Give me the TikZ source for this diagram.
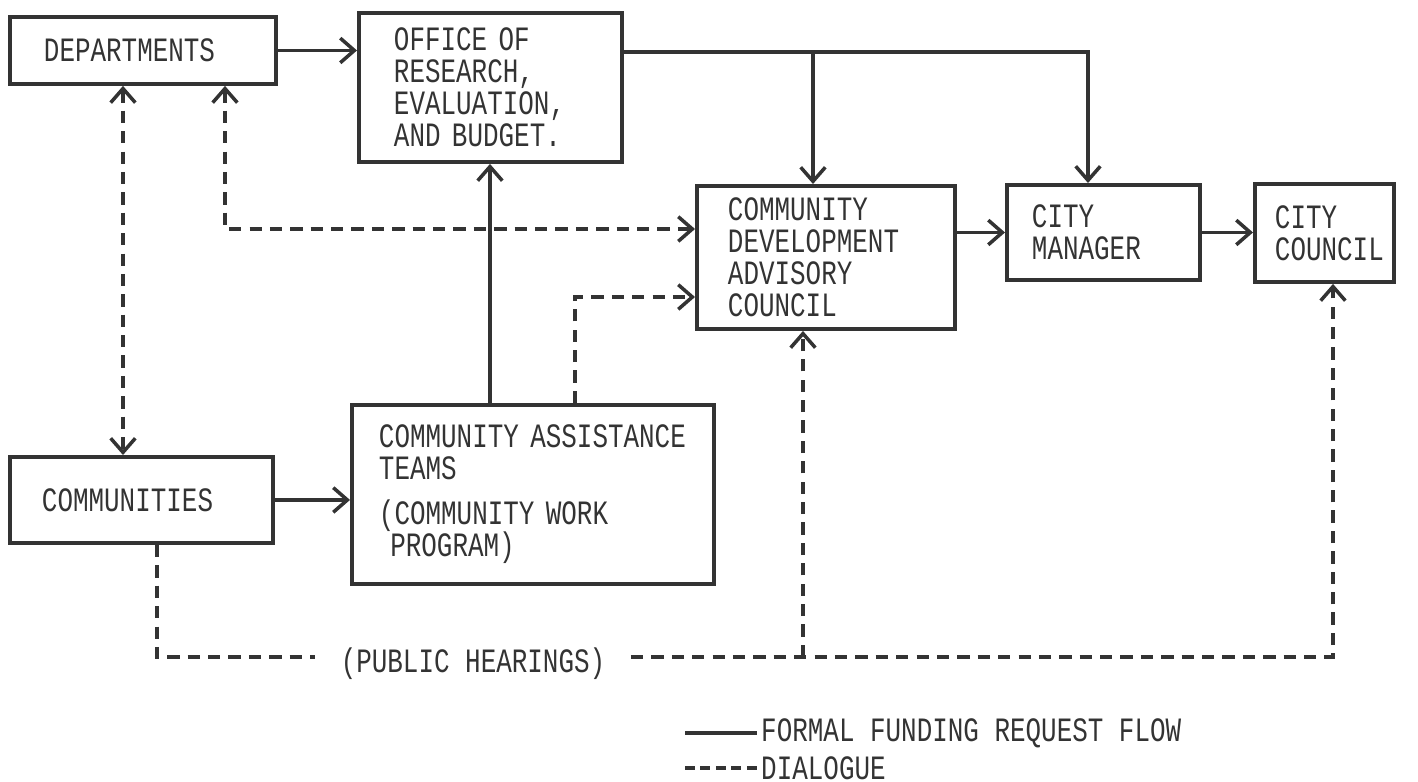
\documentclass[tikz,border=0pt]{standalone}
\usepackage{fontspec}
\usetikzlibrary{calc, arrows.meta}
\newfontfamily\typewriter[FakeStretch=0.76]{Liberation Mono}
\definecolor{InkGray}{HTML}{333333}
\newcommand{\boxfont}{\typewriter\fontsize{9.7}{9.1}\selectfont\lineskiplimit=-20pt\lineskip=0pt}

\tikzset{
  box/.style={draw=InkGray, line width=1.1pt, anchor=north west, align=left,
    text=InkGray, font=\boxfont},
  label/.style={text=InkGray, inner sep=1pt, font=\boxfont},
  flow/.style={InkGray, line width=1pt},
  dialog/.style={InkGray, line width=1pt, dash pattern=on 3.5pt off 2.3pt},
  tip/.style={-{Straight Barb[length=4pt,width=7pt]}},
  tips/.style={{Straight Barb[length=4pt,width=7pt]}-{Straight Barb[length=4pt,width=7pt]}},
}

\begin{document}
\begin{tikzpicture}[x=0.01cm, y=-0.01cm]
  \useasboundingbox (0,0) rectangle (1418,782);

  % boxes
  \node[box, inner xsep=0.34cm, text width=1.98cm, minimum height=0.67cm] (dept) at (8,15) {DEPARTMENTS};
  \node[box, inner xsep=0.35cm, text width=1.93cm, minimum height=1.49cm] (orb) at (357,11)
    {OFFICE OF\\RESEARCH,\\EVALUATION,\\AND BUDGET.};
  \node[box, inner xsep=0.31cm, text width=1.96cm, minimum height=1.43cm] (cdac) at (695,184)
    {COMMUNITY\\DEVELOPMENT\\ADVISORY\\COUNCIL};
  \node[box, inner xsep=0.25cm, text width=1.43cm, minimum height=0.95cm] (cm) at (1005,183)
    {CITY\\MANAGER};
  \node[box, inner xsep=0.20cm, text width=0.99cm, minimum height=0.98cm] (cc) at (1253,182)
    {CITY\\COUNCIL};
  \node[box, inner xsep=0.32cm, text width=1.99cm, minimum height=0.86cm] (comm) at (8,455) {COMMUNITIES};
  \node[box, inner xsep=0.27cm, text width=3.08cm, minimum height=1.79cm] (cat) at (350,403)
    {\mbox{COMMUNITY ASSISTANCE}\\TEAMS\\[3.7pt](COMMUNITY WORK\\\ PROGRAM)};

  % formal flow
  \coordinate (tm) at (1088,52);
  \coordinate (tb) at (813,52);
  \draw[flow, tip] (dept.east) -- (dept.east -| orb.west);
  \draw[flow, tip] (orb.east |- tm) -- (tm) -- (tm |- cm.north);
  \draw[flow, tip] (tb) -- (tb |- cdac.north);
  \draw[flow, tip] (cm.west -| cdac.east) -- (cm.west);
  \draw[flow, tip] (cm.east) -- (cm.east -| cc.west);
  \draw[flow, tip] (comm.east) -- (comm.east -| cat.west);
  \coordinate (cu) at (490,403);
  \draw[flow, tip] (cu |- cat.north) -- (cu |- orb.south);

  % dialogue
  \coordinate (dv) at (123,300);
  \draw[dialog, tips] (dv |- dept.south) -- (dv |- comm.north);
  \coordinate (dk) at (225,229);
  \draw[dialog, tips] (dk |- dept.south) -- (dk) -- (dk -| cdac.west);
  \coordinate (ck) at (575,297);
  \draw[dialog, tip] (ck |- cat.north) -- (ck) -- (ck -| cdac.west);

  % public hearings
  \node[label, inner xsep=0.25cm] (ph) at (473,664) {(PUBLIC HEARINGS)};
  \coordinate (hl) at (157,657);
  \coordinate (hr) at (1333,657);
  \coordinate (hm) at (803,657);
  \draw[dialog] (hl |- comm.south) -- (hl) -- (hl -| ph.west);
  \draw[dialog, tip] (hr -| ph.east) -- (hr) -- (hr |- cc.south);
  \draw[dialog, tip] (hm) -- (hm |- cdac.south);

  % legend
  \node[label, anchor=west] (lgf) at (757,733) {FORMAL FUNDING REQUEST FLOW};
  \node[label, anchor=west] (lgd) at (757,768) {DIALOGUE};
  \draw[flow, line width=1.4pt] ($(lgf.west)+(-72,0)$) -- (lgf.west);
  \draw[dialog, dash pattern=on 2.8pt off 1.6pt] ($(lgd.west)+(-72,0)$) -- (lgd.west);
\end{tikzpicture}
\end{document}
